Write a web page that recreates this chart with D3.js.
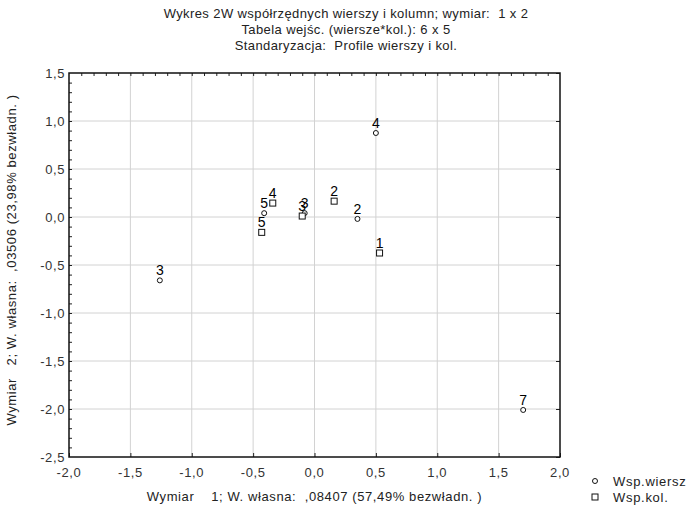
<!DOCTYPE html>
<html>
<head>
<meta charset="utf-8">
<script src="https://cdn.jsdelivr.net/npm/d3@7"></script>
<style>
body { margin: 0; background: #fff; }
text { font-family: "Liberation Sans", Arial, sans-serif; fill: #222; white-space: pre; }
</style>
</head>
<body>
<div id="chart"></div>
<script>
// row coordinates (circles)
var rowLabels = ["2", "3", "3", "4", "5", "7"];
var rowX = [0.35, -1.26, -0.08, 0.50, -0.41, 1.70];
var rowY = [-0.02, -0.66, 0.04, 0.875, 0.04, -2.01];

// column coordinates (squares)
var colLabels = ["1", "2", "3", "4", "5"];
var colX = [0.53, 0.16, -0.10, -0.34, -0.43];
var colY = [-0.375, 0.165, 0.01, 0.145, -0.16];

var xTicks = [-2.0, -1.5, -1.0, -0.5, 0.0, 0.5, 1.0, 1.5, 2.0];
var yTicks = [-2.5, -2.0, -1.5, -1.0, -0.5, 0.0, 0.5, 1.0, 1.5];

var titleLines = [
  "Wykres 2W współrzędnych wierszy i kolumn; wymiar:  1 x 2",
  "Tabela wejśc. (wiersze*kol.): 6 x 5",
  "Standaryzacja:  Profile wierszy i kol."
];
var xTitle = "Wymiar    1; W. własna:  ,08407 (57,49% bezwładn. )";
var yTitle = "Wymiar   2; W. własna:  ,03506 (23,98% bezwładn. )";
var legendNames = ["Wsp.wiersz", "Wsp.kol."];

var width = 689, height = 513;
var margin = {top: 73, right: 129, bottom: 56, left: 69};
var w = width - margin.left - margin.right,
    h = height - margin.top - margin.bottom;

var fmt = function(d) { return d3.format(".1f")(d).replace(".", ",").replace("−", "-"); };

var svg = d3.select("#chart").append("svg")
  .attr("width", width)
  .attr("height", height);

var g = svg.append("g")
  .attr("transform", "translate(" + margin.left + "," + margin.top + ")");

var x = d3.scaleLinear().domain([-2, 2]).range([0, w]);
var y = d3.scaleLinear().domain([-2.5, 1.5]).range([h, 0]);

// grid
g.selectAll(".gx").data(xTicks.slice(1, -1)).enter().append("line")
  .attr("x1", function(d) { return x(d); }).attr("x2", function(d) { return x(d); })
  .attr("y1", 0).attr("y2", h)
  .attr("stroke", "#d2d2d2");
g.selectAll(".gy").data(yTicks.slice(1, -1)).enter().append("line")
  .attr("y1", function(d) { return y(d); }).attr("y2", function(d) { return y(d); })
  .attr("x1", 0).attr("x2", w)
  .attr("stroke", "#d2d2d2");

// axes: ticks pointing inward
var minorX = d3.range(-19, 20).map(function(i) { return i / 10; });
var minorY = d3.range(-24, 15).map(function(i) { return i / 10; });

g.append("g").attr("transform", "translate(0," + h + ")")
  .call(d3.axisTop(x).tickValues(xTicks).tickSize(4).tickFormat(""));
g.append("g")
  .call(d3.axisBottom(x).tickValues(minorX).tickSize(3).tickFormat(""));
g.append("g")
  .call(d3.axisRight(y).tickValues(minorY).tickSize(3).tickFormat(""));
g.append("g").attr("transform", "translate(" + w + ",0)")
  .call(d3.axisLeft(y).tickValues(yTicks).tickSize(4).tickFormat(""));
g.selectAll(".domain").remove();
g.selectAll(".tick line").attr("stroke", "#222");

g.append("rect")
  .attr("width", w).attr("height", h)
  .attr("fill", "none").attr("stroke", "#111").attr("stroke-width", 1.5);

// tick labels
g.selectAll(".xl").data(xTicks).enter().append("text")
  .attr("x", function(d) { return x(d); })
  .attr("y", h + 20)
  .attr("text-anchor", "middle")
  .style("font-size", "13px")
  .style("letter-spacing", "0.6px")
  .style("fill", "#333")
  .text(fmt);
g.selectAll(".yl").data(yTicks).enter().append("text")
  .attr("x", -4)
  .attr("y", function(d) { return y(d) + 5; })
  .attr("text-anchor", "end")
  .style("font-size", "13px")
  .style("letter-spacing", "0.6px")
  .style("fill", "#333")
  .text(fmt);

// titles
svg.selectAll(".title").data(titleLines).enter().append("text")
  .attr("x", 346)
  .attr("y", function(d, i) { return 18 + i * 16; })
  .attr("text-anchor", "middle")
  .style("font-size", "13px")
  .style("letter-spacing", "0.4px")
  .text(function(d) { return d; });

svg.append("text")
  .attr("x", margin.left + w / 2)
  .attr("y", 501)
  .attr("text-anchor", "middle")
  .style("font-size", "13px")
  .style("letter-spacing", "0.6px")
  .text(xTitle);

svg.append("text")
  .attr("transform", "translate(16," + (margin.top + h / 2 - 5) + ") rotate(-90)")
  .attr("text-anchor", "middle")
  .style("font-size", "13px")
  .style("letter-spacing", "0.6px")
  .text(yTitle);

// points
var rows = rowLabels.map(function(l, i) { return {label: l, x: rowX[i], y: rowY[i]}; });
var cols = colLabels.map(function(l, i) { return {label: l, x: colX[i], y: colY[i]}; });

g.selectAll(".row").data(rows).enter().append("circle")
  .attr("cx", function(d) { return x(d.x); })
  .attr("cy", function(d) { return y(d.y); })
  .attr("r", 2.5)
  .attr("fill", "#fff").attr("stroke", "#111");
g.selectAll(".col").data(cols).enter().append("rect")
  .attr("x", function(d) { return x(d.x) - 3; })
  .attr("y", function(d) { return y(d.y) - 3; })
  .attr("width", 6).attr("height", 6)
  .attr("fill", "#fff").attr("stroke", "#111");

g.selectAll(".lab").data(rows.concat(cols)).enter().append("text")
  .attr("x", function(d) { return x(d.x); })
  .attr("y", function(d) { return y(d.y) - 5; })
  .attr("text-anchor", "middle")
  .style("font-size", "14px")
  .style("fill", "#000")
  .text(function(d) { return d.label; });

// legend
var leg = svg.append("g").attr("transform", "translate(595,481)");
leg.append("circle").attr("cx", 0).attr("cy", 0).attr("r", 2.5)
  .attr("fill", "#fff").attr("stroke", "#111");
leg.append("rect").attr("x", -3).attr("y", 13).attr("width", 6).attr("height", 6)
  .attr("fill", "#fff").attr("stroke", "#111");
leg.selectAll("text").data(legendNames).enter().append("text")
  .attr("x", 18)
  .attr("y", function(d, i) { return 5 + i * 16; })
  .style("font-size", "13px")
  .style("letter-spacing", "0.7px")
  .text(function(d) { return d; });
</script>
</body>
</html>
